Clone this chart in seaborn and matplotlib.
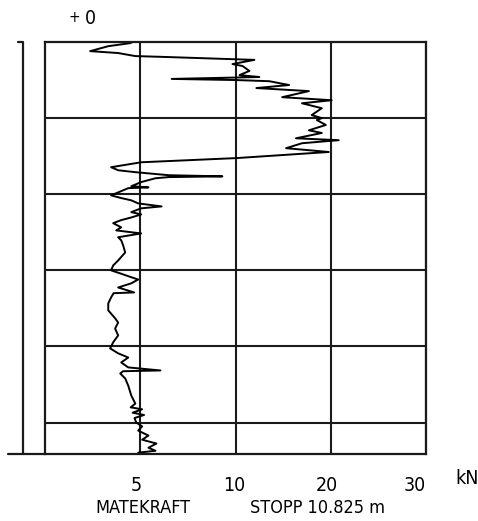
import numpy as np
import matplotlib
matplotlib.use('Agg')
import matplotlib.pyplot as plt
import matplotlib.transforms as mtransforms
import seaborn as sns

# feed force (kN) against depth (m)
depth = [0.00, 0.03, 0.11, 0.24, 0.29, 0.37, 0.39, 0.47, 0.58, 0.63, 0.76, 0.87, 0.92, 0.97, 1.00,
         1.03, 1.13, 1.21, 1.29, 1.45, 1.53, 1.61, 1.74, 1.92, 2.00, 2.05, 2.18, 2.32, 2.39, 2.53,
         2.58, 2.66, 2.79, 2.89, 3.05, 3.16, 3.29, 3.37, 3.42, 3.50, 3.53, 3.55, 3.58, 3.68, 3.79,
         3.82, 3.84, 4.03, 4.10, 4.16, 4.24, 4.32, 4.37, 4.47, 4.53, 4.61, 4.68, 4.76, 4.87, 4.95,
         5.03, 5.13, 5.21, 5.34, 5.53, 5.74, 5.87, 6.00, 6.08, 6.18, 6.24, 6.34, 6.45, 6.58, 6.60,
         6.71, 6.87, 7.05, 7.26, 7.37, 7.53, 7.71, 7.89, 8.05, 8.18, 8.29, 8.42, 8.55, 8.63, 8.65,
         8.71, 8.84, 9.03, 9.29, 9.50, 9.60, 9.65, 9.74, 9.80, 9.88, 10.00, 10.10, 10.21, 10.34,
         10.45, 10.55, 10.66, 10.74, 10.79, 10.825]
force = [4.6, 4.47, 3.32, 2.37, 3.84, 4.74, 6.12, 11.98, 9.84, 10.73, 11.46, 10.42, 12.5, 6.65, 10.1,
         13.54, 15.63, 12.19, 17.71, 14.9, 20.1, 16.98, 19.06, 18.0, 19.06, 18.54, 19.48, 17.71, 19.06, 16.35,
         20.83, 16.98, 15.31, 19.79, 10.1, 5.05, 3.47, 3.84, 4.74, 6.49, 9.31, 6.49, 5.8, 5.05, 4.53,
         5.43, 4.37, 3.47, 4.0, 4.53, 4.89, 6.12, 5.05, 4.53, 5.05, 4.53, 4.0, 3.58, 4.0, 3.74,
         5.05, 3.84, 4.0, 4.1, 4.21, 3.84, 3.58, 3.47, 3.95, 4.53, 4.89, 4.53, 3.84, 4.68, 3.6,
         3.47, 3.32, 3.32, 3.68, 3.84, 3.68, 3.84, 3.58, 3.42, 3.84, 4.37, 4.0, 4.37, 6.06, 4.1,
         3.95, 4.21, 4.37, 4.53, 4.74, 4.5, 5.1, 4.6, 5.2, 4.7, 4.79, 5.1, 4.89, 5.43,
         5.1, 5.85, 5.43, 5.8, 4.89, 5.0]

x_breaks = [0, 5, 10, 20, 30]
x_ticks = [5, 10, 20, 30]
depth_lines = [2, 4, 6, 8, 10]
stop_depth = 10.825

sns.set_style('white')
plt.rcParams['font.family'] = ['DejaVu Sans']
plt.rcParams['font.stretch'] = 'condensed'
plt.rcParams['text.color'] = 'black'
plt.rcParams['xtick.color'] = 'black'

fig = plt.figure(figsize=(4.78, 5.21), dpi=100)
ax = fig.add_axes([45 / 478, 1 - 454 / 521, 381 / 478, 412 / 521])

# the force axis is piecewise: 0-5-10-20-30 kN at equal spacing
steps = np.arange(len(x_breaks))
def fwd(v):
    return np.interp(v, x_breaks, steps)
def inv(u):
    return np.interp(u, steps, x_breaks)
ax.set_xscale('function', functions=(fwd, inv))

sns.lineplot(x=force, y=depth, sort=False, estimator=None, color='black', lw=1.4, ax=ax)

ax.set_xlim(0, 30)
ax.set_ylim(stop_depth, 0)
ax.set_xticks(x_ticks)
ax.set_xticklabels([str(t) for t in x_ticks], fontsize=14, stretch='condensed')
ax.set_yticks(depth_lines)
ax.set_yticklabels([])
ax.tick_params(length=0, pad=16)
ax.grid(True, color='#1a1a1a', lw=1.5)
ax.set_xlabel('')
ax.set_ylabel('')
for s in ax.spines.values():
    s.set_color('#1a1a1a')
    s.set_linewidth(1.6)

# labels sit a little left of their grid lines in the original
for lab, dx in zip(ax.get_xticklabels(), [-4, -1, -4, -11]):
    lab.set_transform(lab.get_transform() + mtransforms.ScaledTranslation(dx / 100, 0, fig.dpi_scale_trans))

# left bracket and extended base line
ax.plot([-22 / 381, -22 / 381, -27 / 381], [0, 1, 1], transform=ax.transAxes,
        color='#1a1a1a', lw=1.6, clip_on=False)
ax.plot([-37 / 381, 0], [0, 0], transform=ax.transAxes, color='#1a1a1a', lw=1.6, clip_on=False)

fig.text(467 / 478, 1 - 479 / 521, 'kN', fontsize=14, ha='center', va='center')
fig.text(143 / 478, 1 - 508 / 521, 'MATEKRAFT', fontsize=13, ha='center', va='center')
fig.text(318 / 478, 1 - 508 / 521, 'STOPP 10.825 m', fontsize=13, ha='center', va='center')
fig.text(74 / 478, 1 - 18 / 521, '+', fontsize=11, ha='center', va='center')
fig.text(90 / 478, 1 - 18 / 521, '0', fontsize=14, ha='center', va='center')

fig.savefig('out.png', dpi=100)
